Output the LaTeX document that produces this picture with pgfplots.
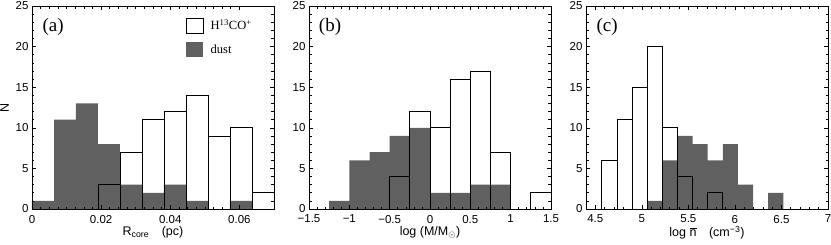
\documentclass[border=0pt]{standalone}
\usepackage{fontspec}
\setmainfont{Liberation Sans}
\newfontfamily\seriffont{Liberation Serif}
\usepackage{pgfplots}
\pgfplotsset{compat=1.18}
\definecolor{dustgray}{RGB}{96,96,96}
\tikzset{plabel/.style={font=\seriffont\fontsize{19}{22}\selectfont}}
\pgfplotsset{
  hist/.style={
    width=242pt, height=203pt, scale only axis,
    ymin=0, ymax=25, ytick={0,5,...,25}, minor y tick num=4,
    tick align=inside,
    major tick length=4pt, minor tick length=2.5pt,
    axis line style={line width=0.8pt},
    every tick/.style={line width=0.6pt, black},
    tick label style={font=\fontsize{11.5}{13}\selectfont},
    xticklabel style={yshift=-2.5pt},
    /pgf/number format/assume math mode=true,
    label style={font=\fontsize{12.5}{14}\selectfont},
    xlabel style={at={(axis description cs:0.5,0)}, anchor=north, yshift=-17pt, inner sep=0pt},
    scaled x ticks=false,
    axis on top,
    anchor=south west,
  },
  hbar/.style={ybar interval, fill=white, draw=black, line width=0.8pt,
    legend image code/.code={\draw[black,fill=white,line width=0.8pt] (0pt,-7.5pt) rectangle (17pt,7.5pt);}},
  hline/.style={ybar interval, fill=none, draw=black, line width=0.8pt, forget plot},
  dbar/.style={ybar interval, fill=dustgray, draw=none,
    legend image code/.code={\fill[dustgray] (0pt,-7.5pt) rectangle (17pt,7.5pt);}},
}
\begin{document}
\begin{tikzpicture}
% ---------------- (a)
\begin{axis}[hist, at={(0pt,0pt)},
  xmin=0, xmax=0.07,
  xtick={0,0.02,0.04,0.06}, xticklabels={0,0.02,0.04,0.06},
  minor x tick num=7,
  xlabel={R\textsubscript{core}\quad(pc)},
  ylabel={N},
  ylabel style={at={(axis description cs:-0.095,0.5)}, anchor=south, inner sep=0pt},
  legend style={at={(rel axis cs:0.635,0.944)}, anchor=north west, draw=none, fill=none,
    inner sep=0pt, row sep=9pt, column sep=7pt, nodes={inner sep=0pt},
    font=\seriffont\fontsize{12.5}{14}\selectfont},
  legend cell align=left,
  legend entries={H\textsuperscript{13}CO\textsuperscript{+}, dust},
]
\addplot[hbar] coordinates {
  (0.019091,3) (0.025455,7) (0.031818,11) (0.038182,12) (0.044545,14)
  (0.050909,9) (0.057273,10) (0.063636,2) (0.07,0)};
\addplot[dbar] coordinates {
  (0,1) (0.006364,11) (0.012727,13) (0.019091,8) (0.025455,3) (0.031818,2)
  (0.038182,3) (0.044545,1) (0.050909,0) (0.057273,1) (0.063636,0)};
\addplot[hline] coordinates {
  (0.019091,3) (0.025455,7) (0.031818,11) (0.038182,12) (0.044545,14)
  (0.050909,9) (0.057273,10) (0.063636,2) (0.07,0)};
\node[plabel] at (rel axis cs:0.087,0.895) {(a)};
\end{axis}
% ---------------- (b)
\begin{axis}[hist, at={(277pt,0pt)},
  xmin=-1.5, xmax=1.5,
  xtick={-1.5,-1,-0.5,0,0.5,1,1.5},
  xticklabels={−1.5,−1,−0.5,0,0.5,1,1.5},
  minor x tick num=4,
  xlabel={log (M/M\textsubscript{$\odot$})},
]
\addplot[hbar] coordinates {
  (-0.5,4) (-0.25,12) (0,10) (0.25,16) (0.5,17) (0.75,7) (1,0) (1.25,2) (1.5,0)};
\addplot[dbar] coordinates {
  (-1.25,1) (-1,6) (-0.75,7) (-0.5,9) (-0.25,10) (0,2) (0.25,2) (0.5,3) (0.75,3) (1,0)};
\addplot[hline] coordinates {
  (-0.5,4) (-0.25,12) (0,10) (0.25,16) (0.5,17) (0.75,7) (1,0) (1.25,2) (1.5,0)};
\node[plabel] at (rel axis cs:0.087,0.895) {(b)};
\end{axis}
% ---------------- (c)
\begin{axis}[hist, at={(554pt,0pt)},
  xmin=4.4, xmax=7,
  xtick={4.5,5,5.5,6,6.5,7},
  xticklabels={4.5,5,5.5,6,6.5,7},
  minor x tick num=4,
  xlabel={log $\overline{\mbox{n}}$\quad(cm\textsuperscript{−3})},
]
\addplot[hbar] coordinates {
  (4.57,6) (4.7325,11) (4.895,15) (5.0575,20) (5.22,10) (5.3825,4)
  (5.545,0) (5.7075,2) (5.87,0)};
\addplot[dbar] coordinates {
  (5.0575,1) (5.22,6) (5.3825,9) (5.545,8) (5.7075,6) (5.87,8)
  (6.0325,3) (6.195,0) (6.3575,2) (6.52,0)};
\addplot[hline] coordinates {
  (4.57,6) (4.7325,11) (4.895,15) (5.0575,20) (5.22,10) (5.3825,4)
  (5.545,0) (5.7075,2) (5.87,0)};
\node[plabel] at (rel axis cs:0.087,0.895) {(c)};
\end{axis}
\pgfresetboundingbox
\path (-32pt,-35pt) rectangle (799pt,209pt);
\end{tikzpicture}
\end{document}
